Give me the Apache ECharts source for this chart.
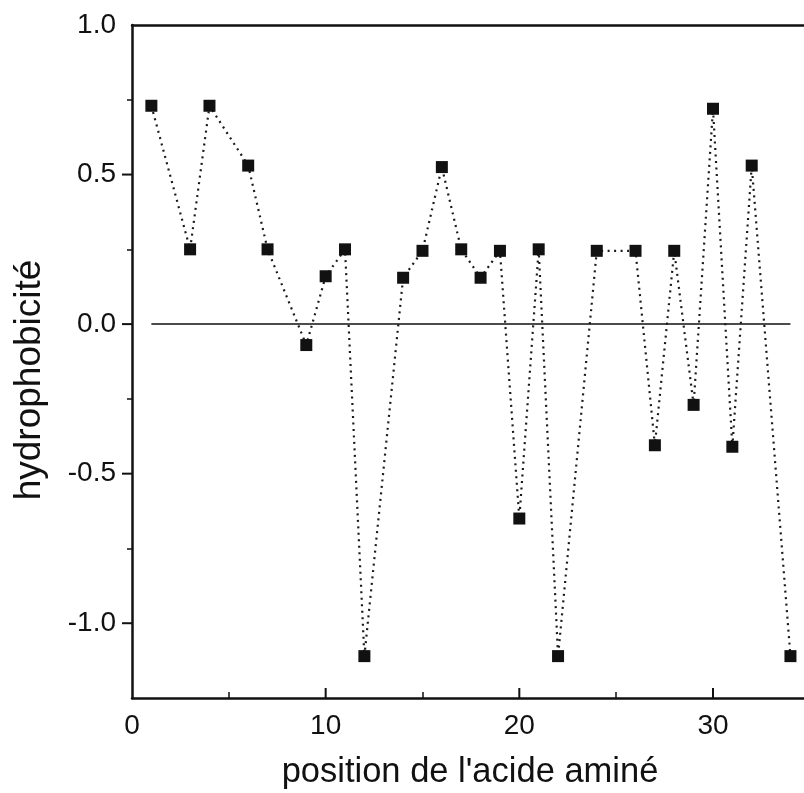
<!DOCTYPE html>
<html>
<head>
<meta charset="utf-8">
<script src="https://cdn.jsdelivr.net/npm/echarts@6/dist/echarts.min.js"></script>
<style>
html,body{margin:0;padding:0;background:#fff;}
#chart{width:804px;height:793px;}
</style>
</head>
<body>
<div id="chart"></div>
<script>
// Data
const positions = [1, 3, 4, 6, 7, 9, 10, 11, 12, 14, 15, 16, 17, 18, 19, 20, 21, 22, 24, 26, 27, 28, 29, 30, 31, 32, 34];
const hydrophobicity = [0.73, 0.25, 0.73, 0.53, 0.25, -0.07, 0.16, 0.25, -1.11, 0.155, 0.245, 0.525, 0.25, 0.155, 0.245, -0.65, 0.25, -1.11, 0.245, 0.245, -0.405, 0.245, -0.27, 0.72, -0.41, 0.53, -1.11];
const zeroLineX = [1, 34];
const zeroLineY = [0, 0];
const xMajorTicks = [0, 10, 20, 30];
const xMinorTicks = [5, 15, 25];
const yMajorTicks = [-1.0, -0.5, 0.0, 0.5, 1.0];
const yMinorTicks = [-0.75, -0.25, 0.25, 0.75];
const xTitle = "position de l'acide aminé";
const yTitle = "hydrophobicité";

const FONT = '"Liberation Sans", Arial, Helvetica, sans-serif';
const chart = echarts.init(document.getElementById('chart'), null, {renderer: 'canvas'});

const pts = positions.map((p, i) => [p, hydrophobicity[i]]);
const zero = zeroLineX.map((x, i) => [x, zeroLineY[i]]);
const XMIN = 0, XMAX = 34.7, YMIN = -1.25, YMAX = 1.0;
const GL = 132, GT = 25, GW = 672, GH = 673;
const INK = '#111';
const xMajorInner = xMajorTicks.filter(v => v > XMIN && v < XMAX);
const yMajorInner = yMajorTicks.filter(v => v > YMIN && v < YMAX);

function tickAxisX(values, len, width) {
  return {
    type: 'value', min: XMIN, max: XMAX, position: 'top', offset: -GH,
    axisLine: {show: false, onZero: false},
    axisTick: {show: true, inside: false, length: len, customValues: values,
      lineStyle: {color: INK, width: width}},
    axisLabel: {show: false}, splitLine: {show: false}
  };
}
function tickAxisY(values, len, width) {
  return {
    type: 'value', min: YMIN, max: YMAX, position: 'right', offset: -GW,
    axisLine: {show: false, onZero: false},
    axisTick: {show: true, inside: true, length: len, customValues: values,
      lineStyle: {color: INK, width: width}},
    axisLabel: {show: false}, splitLine: {show: false}
  };
}
// Major ticks drawn through the library's scales (custom series)
function majorTickSeries(values, dir, len) {
  return {
    type: 'custom', silent: true, clip: false, z: 5,
    data: values.map(v => dir === 'x' ? [v, YMIN] : [XMIN, v]),
    encode: {x: 0, y: 1},
    renderItem: (params, api) => {
      const p = api.coord([api.value(0), api.value(1)]);
      const shape = dir === 'x'
        ? {x1: p[0], y1: p[1], x2: p[0], y2: p[1] - len}
        : {x1: p[0], y1: p[1], x2: p[0] - len, y2: p[1]};
      return {type: 'line', shape: shape, style: {stroke: INK, lineWidth: 2}};
    }
  };
}

chart.setOption({
  animation: false,
  backgroundColor: '#fff',
  grid: {left: GL, top: GT, width: GW, height: GH, containLabel: false, outerBoundsMode: 'none'},
  xAxis: [{
    type: 'value', min: XMIN, max: XMAX, position: 'bottom',
    axisLine: {show: true, onZero: false, lineStyle: {color: INK, width: 2.5}},
    axisTick: {show: false},
    axisLabel: {show: true, margin: 14, color: INK, fontSize: 28, fontFamily: FONT,
      customValues: xMajorTicks, formatter: v => String(v)},
    splitLine: {show: false}
  },
  tickAxisX(xMinorTicks, 6, 1.5),
  {
    type: 'value', min: XMIN, max: XMAX, position: 'top',
    axisLine: {show: true, onZero: false, lineStyle: {color: INK, width: 2.5}},
    axisTick: {show: false}, axisLabel: {show: false}, splitLine: {show: false}
  }],
  yAxis: [{
    type: 'value', min: YMIN, max: YMAX, position: 'left',
    axisLine: {show: true, onZero: false, lineStyle: {color: INK, width: 2.5}},
    axisTick: {show: false},
    axisLabel: {show: true, margin: 16, color: INK, fontSize: 28, fontFamily: FONT,
      customValues: yMajorTicks, formatter: v => (Math.round(v * 10) / 10).toFixed(1)},
    splitLine: {show: false}
  },
  tickAxisY(yMinorTicks, 5, 1.5)],
  graphic: [{
    type: 'text', x: 30, y: 380, rotation: Math.PI / 2,
    style: {text: yTitle, fontSize: 37, fontFamily: FONT, fill: INK,
      textAlign: 'center', textVerticalAlign: 'middle'}
  }, {
    type: 'text', x: 470, y: 772,
    style: {text: xTitle, fontSize: 34.5, fontFamily: FONT, fill: INK,
      textAlign: 'center', textVerticalAlign: 'middle'}
  }],
  series: [{
    type: 'line', data: zero, symbol: 'none', silent: true,
    lineStyle: {color: INK, width: 1.5, type: 'solid'}
  }, {
    type: 'line', data: pts, symbol: 'rect', symbolSize: 12,
    itemStyle: {color: INK},
    lineStyle: {color: '#1a1a1a', width: 2.2, type: [2, 4.5]}
  },
  majorTickSeries(xMajorInner, 'x', 10),
  majorTickSeries(yMajorInner, 'y', 10)]
});
</script>
</body>
</html>
